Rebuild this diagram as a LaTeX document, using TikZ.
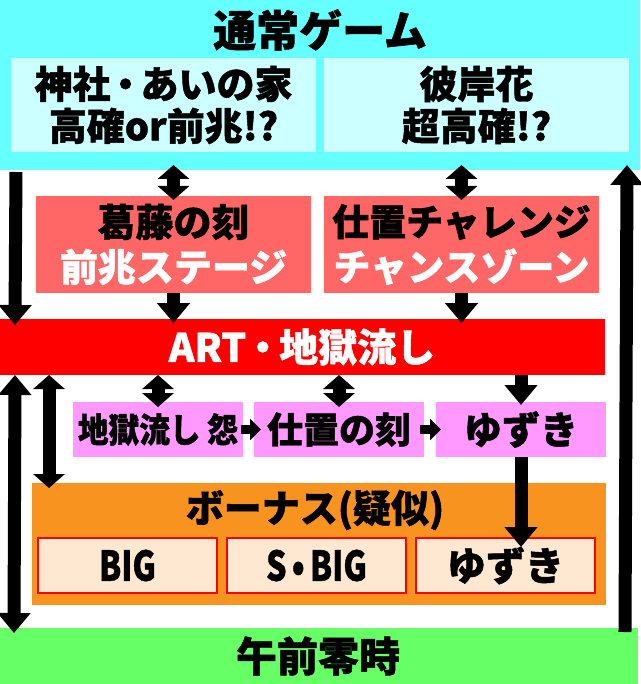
\documentclass[tikz,border=0pt]{standalone}
\usepackage{fontspec}
\setmainfont{Noto Sans CJK JP}[BoldFeatures={FakeBold=1.2}]
\usetikzlibrary{arrows.meta,positioning}
\definecolor{normalcyan}{HTML}{66FFFF}
\definecolor{zonecyan}{HTML}{CCFFFF}
\definecolor{stagered}{HTML}{FF6666}
\definecolor{artred}{HTML}{FF0000}
\definecolor{artpink}{HTML}{FF99FF}
\definecolor{bonusorange}{HTML}{F7931E}
\definecolor{bonuscream}{HTML}{FFE8D2}
\definecolor{midnight}{HTML}{66FF66}
\newcommand{\jp}[1]{\fontsize{#1}{#1}\selectfont\bfseries}
\tikzset{
  panel/.style={inner sep=0pt, outer sep=0pt, align=center},
  bigarrow/.style={line width=13pt, -{Triangle[width=32pt,length=20pt]}},
  twoway/.style={line width=13pt, {Triangle[width=31pt,length=14pt]}-{Triangle[width=31pt,length=14pt]}},
  bigtwoway/.style={line width=13pt, {Triangle[width=32pt,length=20pt]}-{Triangle[width=32pt,length=20pt]}},
  hop/.style={line width=9pt, -{Triangle[width=21pt,length=11pt]}}
}
\begin{document}
\begin{tikzpicture}[x=1pt,y=-1pt]
	\useasboundingbox (0,0) rectangle (640,684);

	% normal game
	\node[panel, fill=normalcyan, minimum width=640pt, minimum height=170pt] (normal) at (320,85) {};
	\node[panel, font=\jp{43}] (normaltitle) at (320,30) {通常ゲーム};
	\node[panel, fill=zonecyan, minimum width=305pt, minimum height=94pt, font={\fontsize{38}{42}\selectfont\bfseries}] (shrine) at (163.5,105) {神社{\kern-4pt}・{\kern-4pt}あいの家\\高確or前兆!?};
	\node[panel, fill=zonecyan, minimum width=305pt, minimum height=94pt, font={\fontsize{38}{42}\selectfont\bfseries}] (higan) at (476.5,105) {彼岸花\\超高確!?};

	% stages
	\node[panel, fill=stagered, minimum width=275pt, minimum height=97pt, font={\fontsize{38}{45}\selectfont\bfseries}] (kato) at (173.5,244.5) {葛藤の刻\\\textcolor{white}{前兆ステージ}};
	\node[panel, fill=stagered, minimum width=275pt, minimum height=97pt, font={\fontsize{37}{45}\selectfont\bfseries}] (shioki) at (461.5,244.5) {仕置チャレンジ\\\textcolor{white}{チャンスゾーン}};

	% ART
	\node[panel, fill=artred, minimum width=606pt, minimum height=56pt, text=white, font=\jp{39}] (art) at (302,347) {ART{\kern-3pt}・{\kern-3pt}地獄流し};

	\node[panel, fill=artpink, minimum width=170pt, minimum height=55pt, font=\jp{34}] (jigoku) at (158,429.5) {\scalebox{0.9}[1]{地獄流し 怨}};
	\node[panel, fill=artpink, minimum width=170pt, minimum height=55pt, font=\jp{36}] (shiokitoki) at (339,429.5) {仕置の刻};
	\node[panel, fill=artpink, minimum width=170pt, minimum height=55pt, font=\jp{38}] (yuzuki) at (521,429.5) {ゆずき};

	% bonus
	\node[panel, fill=bonusorange, minimum width=574pt, minimum height=122pt] (bonus) at (319,544) {};
	\node[panel, font=\jp{38}] (bonustitle) at (315,510) {ボーナス(疑似)};
	\node[panel, fill=bonuscream, draw=artred, line width=1.5pt, minimum width=179pt, minimum height=55pt, font=\jp{41}] (big) at (127.5,565.5) {\scalebox{0.78}[1]{BIG}};
	\node[panel, fill=bonuscream, draw=artred, line width=1.5pt, minimum width=179pt, minimum height=55pt, font=\jp{41}] (sbig) at (316.5,565.5) {\scalebox{0.78}[1]{S\,•\,BIG}};
	\node[panel, fill=bonuscream, draw=artred, line width=1.5pt, minimum width=179pt, minimum height=55pt, font=\jp{39}] (yuzukibonus) at (505.5,565.5) {ゆずき};

	% midnight
	\node[panel, fill=midnight, minimum width=640pt, minimum height=56pt, font=\jp{41}] (zero) at (318,656) {午前零時};

	% arrows
	\draw[twoway, shorten <=-5pt, shorten >=-4pt] (kato.north |- normal.south) -- (kato.north);
	\draw[twoway, shorten <=-5pt, shorten >=-4pt] (shioki.north |- normal.south) -- (shioki.north);
	\draw[bigarrow, shorten >=-4pt] (kato.south) -- (kato.south |- art.north);
	\draw[bigarrow, shorten >=-4pt] (shioki.south) -- (shioki.south |- art.north);
	\draw[bigarrow, shorten <=2pt, shorten >=-6pt] ([xshift=16pt]normal.south west) -- ([xshift=16pt]art.north west);
	\draw[bigarrow, shorten <=-4pt, shorten >=-5pt] ([xshift=-13pt]zero.north east) -- ([xshift=-13pt]normal.south east);
	\draw[bigtwoway, shorten >=-5pt] ([xshift=16pt]art.south west) -- ([xshift=16pt]zero.north west);
	\draw[twoway, shorten >=-5pt] ([xshift=50pt]art.south west) -- ([xshift=50pt]art.south west |- bonus.north);
	\draw[twoway, shorten >=-5pt] (jigoku.north |- art.south) -- (jigoku.north);
	\draw[twoway, shorten >=-5pt] (shiokitoki.north |- art.south) -- (shiokitoki.north);
	\draw[bigarrow, shorten >=-3pt] (yuzuki.north |- art.south) -- (yuzuki.north);
	\draw[hop, shorten <=-2pt, shorten >=-7pt] (jigoku.east) -- (shiokitoki.west);
	\draw[hop, shorten <=-4pt, shorten >=-5pt] (shiokitoki.east) -- (yuzuki.west);
	\draw[bigarrow, shorten >=-9pt] (yuzuki.south) -- (yuzuki.south |- yuzukibonus.north);

\end{tikzpicture}
\end{document}
